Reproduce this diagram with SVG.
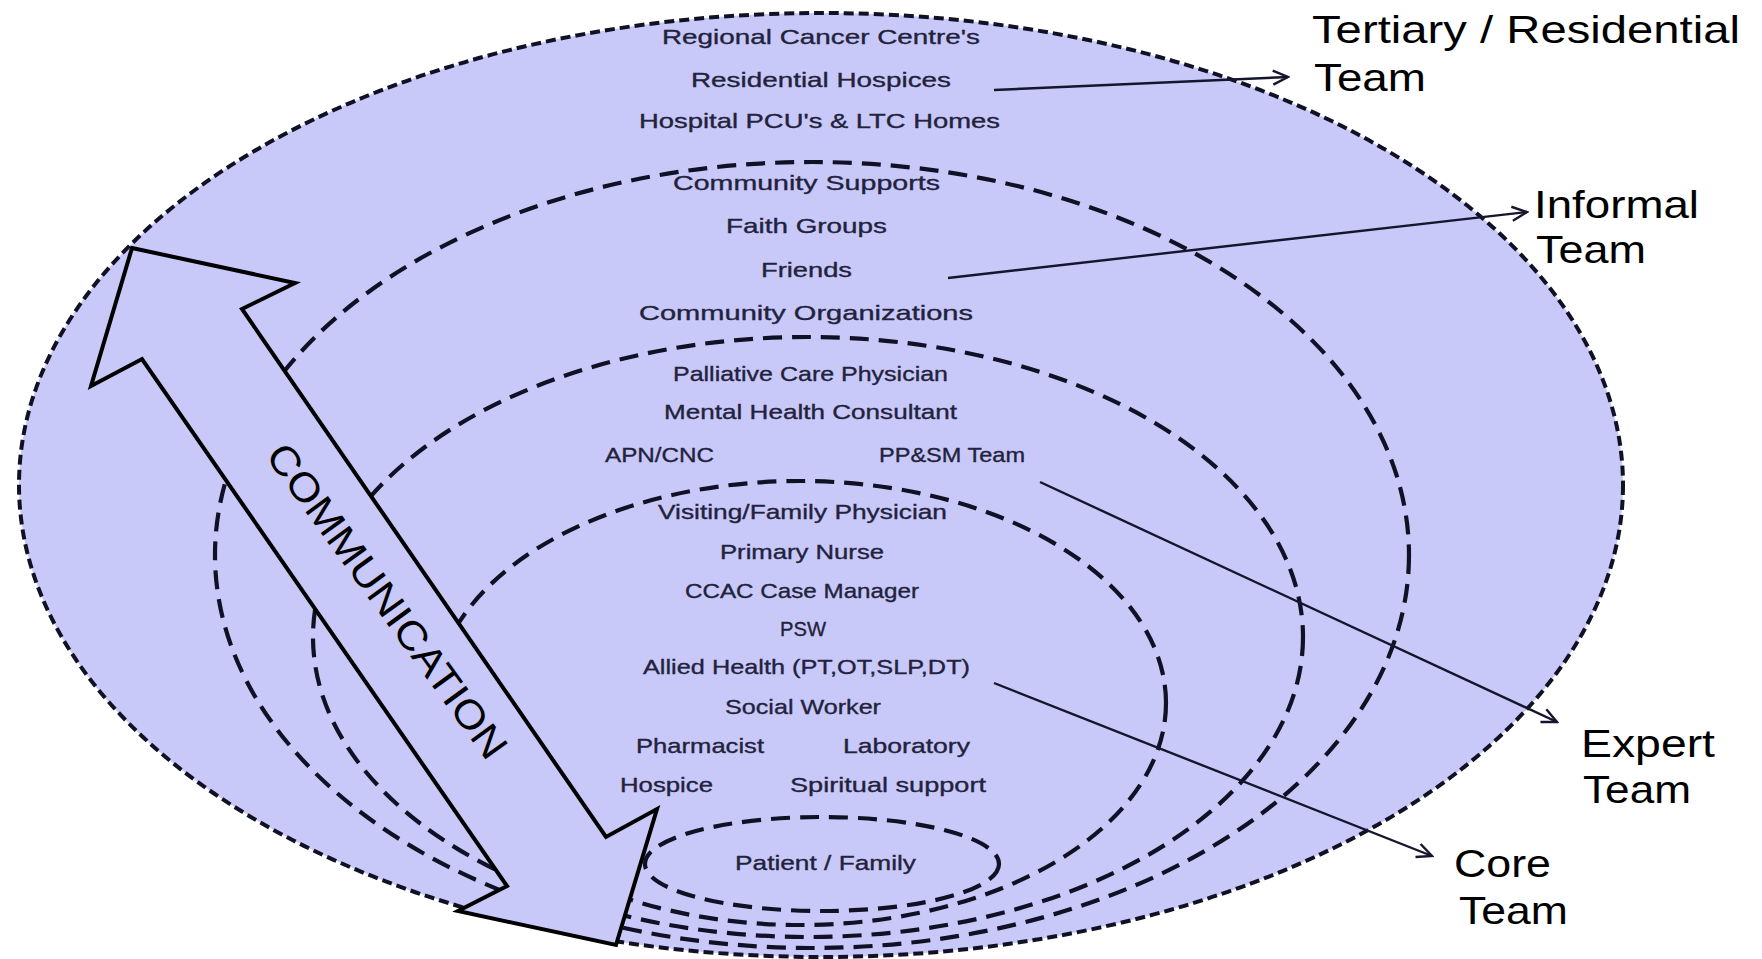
<svg xmlns="http://www.w3.org/2000/svg" width="1762" height="959" viewBox="0 0 1762 959">
<style>
.ring{fill:none;stroke:#111126;stroke-width:4.2;stroke-dasharray:19 10}
.outer{fill:#c9c9f9;stroke:#111126;stroke-width:4;stroke-dasharray:10 5}
.item{font-family:"Liberation Sans",Arial,sans-serif;font-size:21px;fill:#22223c;stroke:#22223c;stroke-width:0.35}
.lbl{font-family:"Liberation Sans",Arial,sans-serif;font-size:39px;fill:#000}
.conn{fill:none;stroke:#15152e;stroke-width:2.4}
</style>
<defs>
<marker id="ah" markerUnits="userSpaceOnUse" markerWidth="22" markerHeight="22" viewBox="0 0 22 22" refX="20" refY="11" orient="auto">
<path d="M5,4 L20,11 L5,18" fill="none" stroke="#15152e" stroke-width="2.4"/>
</marker>
</defs>
<rect width="1762" height="959" fill="#ffffff"/>
<g id="tertiary-ring"><ellipse class="outer" cx="821" cy="485" rx="802" ry="472"/></g>
<g id="informal-ring"><ellipse class="ring" cx="812" cy="555" rx="597" ry="393"/></g>
<g id="expert-ring"><ellipse class="ring" cx="808" cy="637" rx="495" ry="300"/></g>
<g id="core-ring"><ellipse class="ring" cx="800" cy="703" rx="366" ry="222"/></g>
<g id="patient-ring"><ellipse class="ring" cx="822" cy="864" rx="177" ry="47"/></g>
<g id="communication-arrow">
<polygon points="132,248 295,283 242,309 606,837 657,809 616,945 458,911 507,886 142,359 91,386" fill="#c9c9f9" stroke="#000" stroke-width="4" stroke-linejoin="miter"/>
<text x="376" y="609" transform="rotate(54 376 609)" text-anchor="middle" font-family="Liberation Sans, Arial, sans-serif" font-size="40" fill="#000" textLength="379" lengthAdjust="spacingAndGlyphs">COMMUNICATION</text>
</g>
<g id="tertiary-items">
<text class="item" x="662" y="44" textLength="318" lengthAdjust="spacingAndGlyphs">Regional Cancer Centre's</text>
<text class="item" x="691" y="87" textLength="260" lengthAdjust="spacingAndGlyphs">Residential Hospices</text>
<text class="item" x="639" y="128" textLength="361" lengthAdjust="spacingAndGlyphs">Hospital PCU's &amp; LTC  Homes</text>
</g>
<g id="informal-items">
<text class="item" x="673" y="190" textLength="267" lengthAdjust="spacingAndGlyphs">Community Supports</text>
<text class="item" x="726" y="233" textLength="161" lengthAdjust="spacingAndGlyphs">Faith Groups</text>
<text class="item" x="761" y="277" textLength="91" lengthAdjust="spacingAndGlyphs">Friends</text>
<text class="item" x="639" y="320" textLength="334" lengthAdjust="spacingAndGlyphs">Community Organizations</text>
</g>
<g id="expert-items">
<text class="item" x="673" y="381" textLength="275" lengthAdjust="spacingAndGlyphs">Palliative Care Physician</text>
<text class="item" x="664" y="419" textLength="293" lengthAdjust="spacingAndGlyphs">Mental Health Consultant</text>
<text class="item" x="605" y="462" textLength="109" lengthAdjust="spacingAndGlyphs">APN/CNC</text>
<text class="item" x="879" y="462" textLength="146" lengthAdjust="spacingAndGlyphs">PP&amp;SM Team</text>
</g>
<g id="core-items">
<text class="item" x="658" y="519" textLength="289" lengthAdjust="spacingAndGlyphs">Visiting/Family Physician</text>
<text class="item" x="720" y="559" textLength="164" lengthAdjust="spacingAndGlyphs">Primary Nurse</text>
<text class="item" x="685" y="598" textLength="234" lengthAdjust="spacingAndGlyphs">CCAC Case Manager</text>
<text class="item" x="780" y="636" textLength="46" lengthAdjust="spacingAndGlyphs">PSW</text>
<text class="item" x="643" y="674" textLength="327" lengthAdjust="spacingAndGlyphs">Allied Health (PT,OT,SLP,DT)</text>
<text class="item" x="725" y="714" textLength="156" lengthAdjust="spacingAndGlyphs">Social Worker</text>
<text class="item" x="636" y="753" textLength="128" lengthAdjust="spacingAndGlyphs">Pharmacist</text>
<text class="item" x="843" y="753" textLength="127" lengthAdjust="spacingAndGlyphs">Laboratory</text>
<text class="item" x="620" y="792" textLength="93" lengthAdjust="spacingAndGlyphs">Hospice</text>
<text class="item" x="790" y="792" textLength="196" lengthAdjust="spacingAndGlyphs">Spiritual support</text>
</g>
<g id="patient-item">
<text class="item" x="735" y="870" textLength="181" lengthAdjust="spacingAndGlyphs">Patient / Family</text>
</g>
<g id="connectors">
<line class="conn" x1="994" y1="90" x2="1288" y2="77" marker-end="url(#ah)"/>
<line class="conn" x1="948" y1="278" x2="1527" y2="212" marker-end="url(#ah)"/>
<line class="conn" x1="1040" y1="482" x2="1557" y2="722" marker-end="url(#ah)"/>
<line class="conn" x1="994" y1="683" x2="1432" y2="856" marker-end="url(#ah)"/>
</g>
<g id="label-tertiary">
<text class="lbl" x="1312" y="43" textLength="428" lengthAdjust="spacingAndGlyphs">Tertiary / Residential</text>
<text class="lbl" x="1314" y="91" textLength="112" lengthAdjust="spacingAndGlyphs">Team</text>
</g>
<g id="label-informal">
<text class="lbl" x="1534" y="218" textLength="165" lengthAdjust="spacingAndGlyphs">Informal</text>
<text class="lbl" x="1536" y="263" textLength="110" lengthAdjust="spacingAndGlyphs">Team</text>
</g>
<g id="label-expert">
<text class="lbl" x="1581" y="757" textLength="134" lengthAdjust="spacingAndGlyphs">Expert</text>
<text class="lbl" x="1583" y="803" textLength="108" lengthAdjust="spacingAndGlyphs">Team</text>
</g>
<g id="label-core">
<text class="lbl" x="1454" y="877" textLength="97" lengthAdjust="spacingAndGlyphs">Core</text>
<text class="lbl" x="1459" y="924" textLength="109" lengthAdjust="spacingAndGlyphs">Team</text>
</g>
</svg>
